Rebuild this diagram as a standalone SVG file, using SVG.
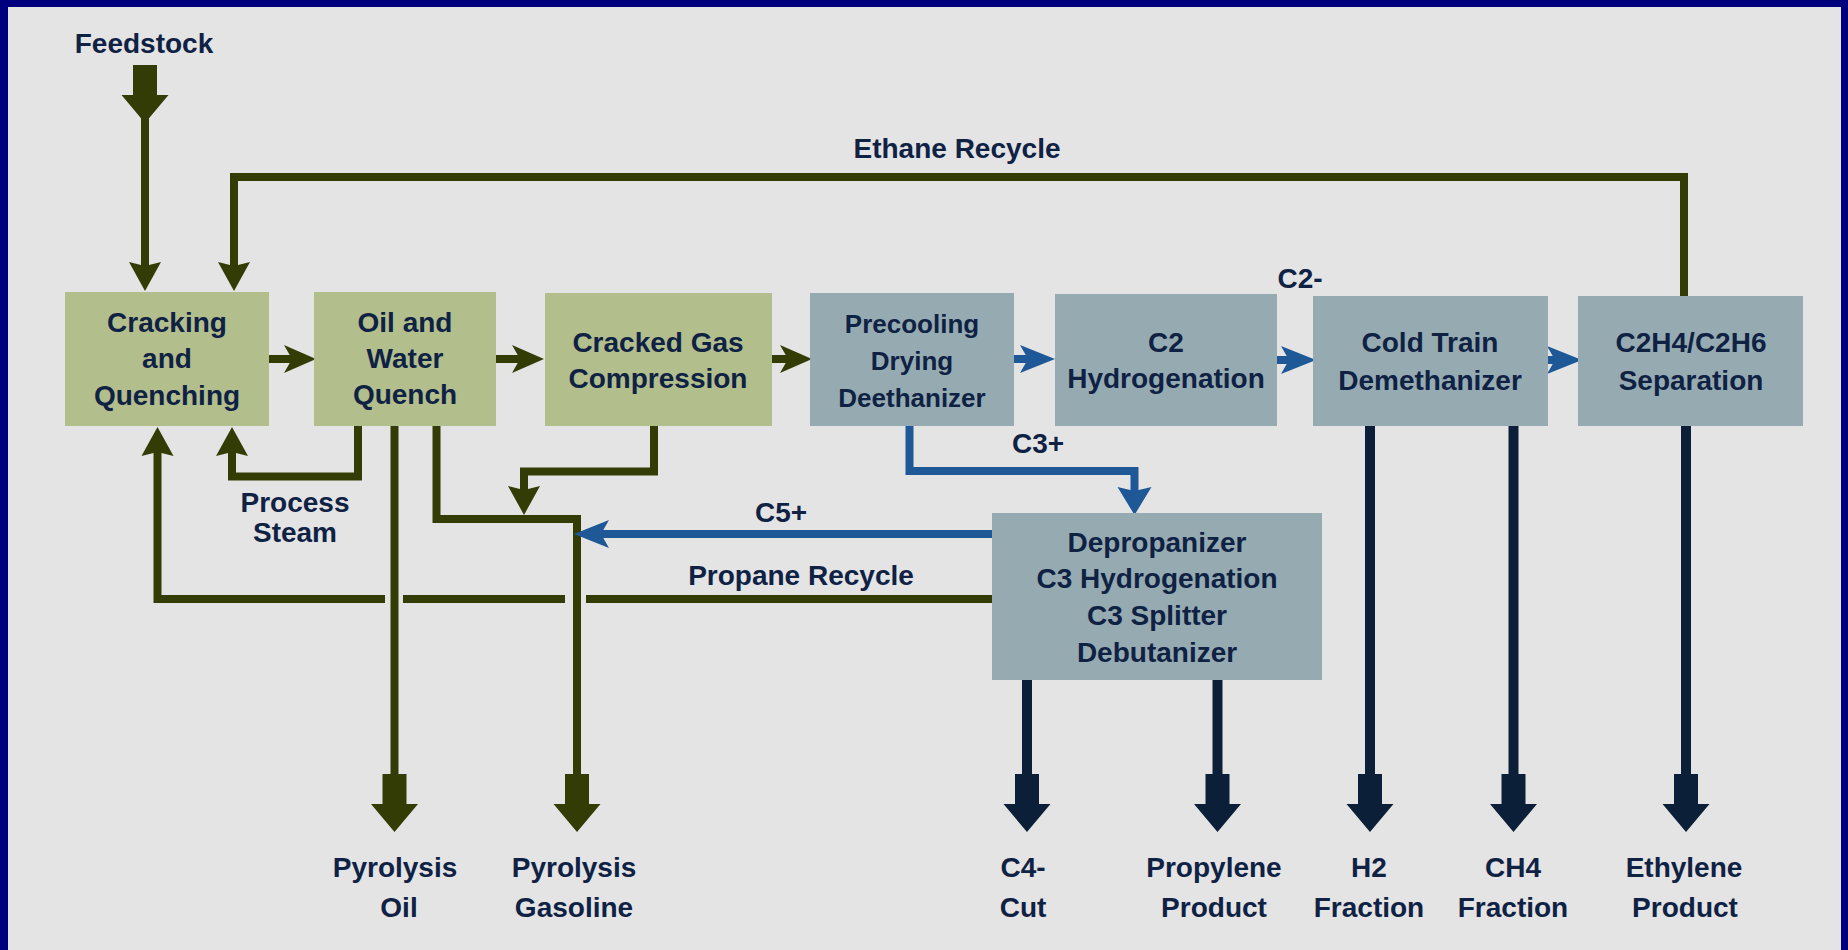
<svg xmlns="http://www.w3.org/2000/svg" xmlns:xlink="http://www.w3.org/1999/xlink" width="1848" height="950" viewBox="0 0 1848 950">
<style>
.t{font-family:"Liberation Sans",Arial,sans-serif;font-weight:bold;font-size:28px;fill:#0f2244;text-anchor:middle}
.ts{font-size:26px}
.g{fill:#b3be8d}
.b{fill:#96abb1}
.lo{fill:none;stroke:#343c05;stroke-width:8;stroke-linejoin:miter}
.lb{fill:none;stroke:#1e5896;stroke-width:8;stroke-linejoin:miter}
.ln{fill:none;stroke:#0b2038;stroke-width:10}
</style>
<defs>
<marker id="mO" markerUnits="userSpaceOnUse" markerWidth="60" markerHeight="60" refX="0" refY="0" viewBox="-30 -30 60 60" orient="auto" overflow="visible">
<path d="M20,0 L-9,-16 L-5,0 L-9,16 Z" fill="#343c05"/>
</marker>
<marker id="mOs" markerUnits="userSpaceOnUse" markerWidth="60" markerHeight="60" refX="0" refY="0" viewBox="-30 -30 60 60" orient="auto" overflow="visible">
<path d="M20,0 L-12,-14 L-4,0 L-12,14 Z" fill="#343c05"/>
</marker>
<marker id="mB" markerUnits="userSpaceOnUse" markerWidth="60" markerHeight="60" refX="0" refY="0" viewBox="-30 -30 60 60" orient="auto" overflow="visible">
<path d="M20,0 L-8,-17 L-4,0 L-8,17 Z" fill="#1e5896"/>
</marker>
<marker id="mBs" markerUnits="userSpaceOnUse" markerWidth="60" markerHeight="60" refX="0" refY="0" viewBox="-30 -30 60 60" orient="auto" overflow="visible">
<path d="M22,0 L-13,-14 L-5,0 L-13,14 Z" fill="#1e5896"/>
</marker>
<path id="blk" d="M-12,-58 H12 V-28 H23.5 L0,0 L-23.5,-28 H-12 Z"/>
</defs>

<rect x="0" y="0" width="1848" height="950" fill="#00007f"/>
<rect x="8" y="7" width="1833" height="943" fill="#e4e4e4"/>

<g id="connectors">
<!-- feedstock -->
<use href="#blk" x="145" y="123" fill="#343c05"/>
<path class="lo" d="M145,118 V271" marker-end="url(#mO)"/>
<!-- ethane recycle -->
<path class="lo" d="M1684,296 V177 H234 V271" marker-end="url(#mO)"/>
<!-- main olive flow -->
<path class="lo" d="M269,359 H296" marker-end="url(#mOs)"/>
<path class="lo" d="M496,359 H524" marker-end="url(#mOs)"/>
<path class="lo" d="M772,359 H792" marker-end="url(#mOs)"/>
<!-- process steam -->
<path class="lo" d="M358,426 V476.5 H232 V447" marker-end="url(#mO)"/>
<!-- propane recycle -->
<path class="lo" d="M992,599 H586 M565,599 H403 M385,599 H157.5 V447" marker-end="url(#mO)"/>
<!-- pyrolysis oil -->
<path class="lo" d="M394.5,426 V777"/>
<use href="#blk" x="394.5" y="832" fill="#343c05"/>
<!-- pyrolysis gasoline -->
<path class="lo" d="M436.5,426 V519 H577 V777"/>
<use href="#blk" x="577" y="832" fill="#343c05"/>
<!-- compression condensate -->
<path class="lo" d="M654,426 V471.5 H524 V495" marker-end="url(#mO)"/>
<!-- blue flows -->
<path class="lb" d="M1014,359 H1033" marker-end="url(#mBs)"/>
<path class="lb" d="M1277,360 H1294" marker-end="url(#mBs)"/>
<path class="lb" d="M1548,360 H1560" marker-end="url(#mBs)"/>
<path class="lb" d="M909.5,426 V471 H1134.5 V495" marker-end="url(#mB)"/>
<path class="lb" d="M992,534 H596" marker-end="url(#mBs)"/>
<!-- product lines -->
<path class="ln" d="M1027,680 V777"/>
<use href="#blk" x="1027" y="832" fill="#0b2038"/>
<path class="ln" d="M1217.5,680 V777"/>
<use href="#blk" x="1217.5" y="832" fill="#0b2038"/>
<path class="ln" d="M1370,426 V777"/>
<use href="#blk" x="1370" y="832" fill="#0b2038"/>
<path class="ln" d="M1513.5,426 V777"/>
<use href="#blk" x="1513.5" y="832" fill="#0b2038"/>
<path class="ln" d="M1686,426 V777"/>
<use href="#blk" x="1686" y="832" fill="#0b2038"/>
</g>

<g id="cracking">
<rect class="g" x="65" y="292" width="204" height="134"/>
<text class="t" x="167" y="332">Cracking</text>
<text class="t" x="167" y="368">and</text>
<text class="t" x="167" y="405">Quenching</text>
</g>
<g id="quench">
<rect class="g" x="314" y="292" width="182" height="134"/>
<text class="t" x="405" y="332">Oil and</text>
<text class="t" x="405" y="368">Water</text>
<text class="t" x="405" y="404">Quench</text>
</g>
<g id="compression">
<rect class="g" x="545" y="293" width="227" height="133"/>
<text class="t" x="658" y="352">Cracked Gas</text>
<text class="t" x="658" y="388">Compression</text>
</g>
<g id="precooling">
<rect class="b" x="810" y="293" width="204" height="133"/>
<text class="t ts" x="912" y="333">Precooling</text>
<text class="t ts" x="912" y="370">Drying</text>
<text class="t ts" x="912" y="407">Deethanizer</text>
</g>
<g id="c2hydro">
<rect class="b" x="1055" y="294" width="222" height="132"/>
<text class="t" x="1166" y="352">C2</text>
<text class="t" x="1166" y="388">Hydrogenation</text>
</g>
<g id="coldtrain">
<rect class="b" x="1313" y="296" width="235" height="130"/>
<text class="t" x="1430" y="352">Cold Train</text>
<text class="t" x="1430" y="390">Demethanizer</text>
</g>
<g id="c2split">
<rect class="b" x="1578" y="296" width="225" height="130"/>
<text class="t" x="1691" y="352">C2H4/C2H6</text>
<text class="t" x="1691" y="390">Separation</text>
</g>
<g id="depropanizer">
<rect class="b" x="992" y="513" width="330" height="167"/>
<text class="t" x="1157" y="552">Depropanizer</text>
<text class="t" x="1157" y="588">C3 Hydrogenation</text>
<text class="t" x="1157" y="625">C3 Splitter</text>
<text class="t" x="1157" y="662">Debutanizer</text>
</g>

<g id="labels">
<text class="t" x="144" y="53">Feedstock</text>
<text class="t" x="957" y="158">Ethane Recycle</text>
<text class="t" x="1300" y="288">C2-</text>
<text class="t" x="1038" y="453">C3+</text>
<text class="t" x="781" y="522">C5+</text>
<text class="t" x="801" y="585">Propane Recycle</text>
<text class="t" x="295" y="512">Process</text>
<text class="t" x="295" y="542">Steam</text>
<text class="t" x="395" y="877">Pyrolysis</text>
<text class="t" x="399" y="917">Oil</text>
<text class="t" x="574" y="877">Pyrolysis</text>
<text class="t" x="574" y="917">Gasoline</text>
<text class="t" x="1023" y="877">C4-</text>
<text class="t" x="1023" y="917">Cut</text>
<text class="t" x="1214" y="877">Propylene</text>
<text class="t" x="1214" y="917">Product</text>
<text class="t" x="1369" y="877">H2</text>
<text class="t" x="1369" y="917">Fraction</text>
<text class="t" x="1513" y="877">CH4</text>
<text class="t" x="1513" y="917">Fraction</text>
<text class="t" x="1684" y="877">Ethylene</text>
<text class="t" x="1685" y="917">Product</text>
</g>
</svg>
